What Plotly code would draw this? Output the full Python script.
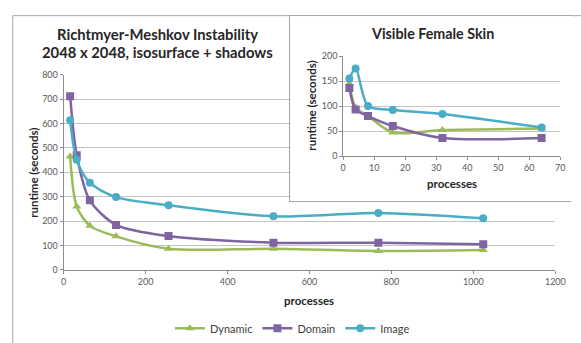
import plotly.graph_objects as go

W, H = 581, 343

# ---- data: main chart (Richtmyer-Meshkov) ----
rm_procs = [16, 32, 64, 128, 256, 512, 768, 1024]
rm_dynamic = [465, 259, 180, 137, 86, 86, 77, 81]
rm_domain = [712, 470, 285, 184, 138, 111, 111, 105]
rm_image = [613, 451, 357, 298, 265, 219, 233, 211]

# ---- data: inset (Visible Female Skin) ----
vf_procs = [2, 4, 8, 16, 32, 64]
vf_dynamic = [145, 97, 80, 47, 52, 55]
vf_domain = [136, 93, 80, 60, 36, 36]
vf_image = [155, 175, 100, 92, 84, 57]

series_names = ["Dynamic", "Domain", "Image"]
colors = {"Dynamic": "#9BBB59", "Domain": "#8064A2", "Image": "#4BACC6"}
symbols = {"Dynamic": "triangle-up", "Domain": "square", "Image": "circle"}

main_xticks = [0, 200, 400, 600, 800, 1000, 1200]
main_yticks = [0, 100, 200, 300, 400, 500, 600, 700, 800]
inset_xticks = [0, 10, 20, 30, 40, 50, 60, 70]
inset_yticks = [0, 50, 100, 150, 200]

FONT = "Lato"
TICKCOL = "#595959"
GRID = "#C4C4C4"
AXCOL = "#8C8C8C"


def px_x(p):
    return p / W


def px_y(p):
    return 1 - p / H


fig = go.Figure()

main_data = {"Dynamic": rm_dynamic, "Domain": rm_domain, "Image": rm_image}
inset_data = {"Dynamic": vf_dynamic, "Domain": vf_domain, "Image": vf_image}

for name in series_names:
    fig.add_trace(go.Scatter(
        x=rm_procs, y=main_data[name], name=name, mode="lines+markers",
        line=dict(color=colors[name], width=2.5, shape="spline", smoothing=0.8),
        marker=dict(symbol=symbols[name], size=8, color=colors[name]),
        xaxis="x", yaxis="y", showlegend=True,
    ))

# invisible box subplot (covers main chart beneath the inset)
fig.add_trace(go.Scatter(x=[None], y=[None], xaxis="x2", yaxis="y2",
                         showlegend=False, hoverinfo="skip"))

for name in series_names:
    fig.add_trace(go.Scatter(
        x=vf_procs, y=inset_data[name], name=name, mode="lines+markers",
        line=dict(color=colors[name], width=2.5, shape="spline", smoothing=0.8),
        marker=dict(symbol=symbols[name], size=8, color=colors[name]),
        xaxis="x3", yaxis="y3", showlegend=False,
    ))

tickfont = dict(family=FONT, size=9, color=TICKCOL)

fig.update_layout(
    width=W, height=H,
    margin=dict(l=0, r=0, t=0, b=0),
    paper_bgcolor="white", plot_bgcolor="white",
    font=dict(family=FONT, color="#404040"),
    showlegend=True,
    legend=dict(orientation="h", x=px_x(296), xanchor="center",
                y=px_y(333), yanchor="middle",
                font=dict(family=FONT, size=11, color="#404040"),
                itemwidth=30, tracegroupgap=0, bgcolor="rgba(0,0,0,0)"),
    xaxis=dict(domain=[px_x(62), px_x(565)], range=[0, 1200],
               tickvals=main_xticks, showgrid=False, zeroline=False,
               showline=True, linecolor=AXCOL, linewidth=1,
               ticks="outside", ticklen=3, tickcolor=AXCOL,
               tickfont=tickfont, anchor="y"),
    yaxis=dict(domain=[px_y(272.5), px_y(71)], range=[0, 800],
               tickvals=main_yticks, showgrid=True, gridcolor=GRID,
               gridwidth=1, zeroline=False,
               showline=True, linecolor=AXCOL, linewidth=1,
               ticks="outside", ticklen=3, tickcolor=AXCOL,
               tickfont=tickfont, anchor="x"),
    xaxis2=dict(domain=[px_x(294), 1.0], range=[0, 1], visible=True,
                showticklabels=False, showgrid=False, zeroline=False,
                ticks="", showline=True, mirror=True, linecolor="#A6A6A6",
                linewidth=1, anchor="y2", fixedrange=True),
    yaxis2=dict(domain=[px_y(201.5), px_y(10.5)], range=[0, 1],
                showticklabels=False, showgrid=False, zeroline=False,
                ticks="", showline=True, mirror=False, linecolor="#A6A6A6",
                linewidth=1, anchor="x2", fixedrange=True),
    xaxis3=dict(domain=[px_x(348), px_x(570)], range=[0, 70],
                tickvals=inset_xticks, showgrid=False, zeroline=False,
                showline=True, linecolor=AXCOL, linewidth=1,
                ticks="outside", ticklen=3, tickcolor=AXCOL,
                tickfont=tickfont, anchor="y3"),
    yaxis3=dict(domain=[px_y(155), px_y(51.7)], range=[0, 200],
                tickvals=inset_yticks, showgrid=True, gridcolor=GRID,
                gridwidth=1, zeroline=False,
                showline=True, linecolor=AXCOL, linewidth=1,
                ticks="outside", ticklen=3, tickcolor=AXCOL,
                tickfont=tickfont, anchor="x3"),
)

# outer chart border (left and top)
fig.add_shape(type="rect", xref="paper", yref="paper",
              x0=px_x(10), x1=1.05, y0=-0.05, y1=px_y(10),
              line=dict(color="#A6A6A6", width=1), fillcolor="rgba(0,0,0,0)",
              layer="below")

title_font = dict(family=FONT, size=14.8, color="#262626")
inset_title_font = dict(family=FONT, size=14.3, color="#262626")
axis_title_font = dict(family=FONT, size=11.5, color="#262626")

annotations = [
    dict(text="<b>Richtmyer-Meshkov Instability</b>", x=px_x(158), y=px_y(29),
         font=title_font),
    dict(text="<b>2048 x 2048, isosurface + shadows</b>", x=px_x(158), y=px_y(48),
         font=title_font),
    dict(text="<b>runtime (seconds)</b>", x=px_x(31), y=px_y(172),
         textangle=-90, font=axis_title_font),
    dict(text="<b>processes</b>", x=px_x(313), y=px_y(304), font=axis_title_font),
    dict(text="<b>Visible Female Skin</b>", x=px_x(439), y=px_y(28.5),
         font=inset_title_font),
    dict(text="<b>runtime (seconds)</b>", x=px_x(316), y=px_y(103),
         textangle=-90, font=axis_title_font),
    dict(text="<b>processes</b>", x=px_x(459), y=px_y(183), font=axis_title_font),
]
for a in annotations:
    fig.add_annotation(xref="paper", yref="paper", showarrow=False,
                       xanchor="center", yanchor="middle", **a)

fig.write_html("out.html")
